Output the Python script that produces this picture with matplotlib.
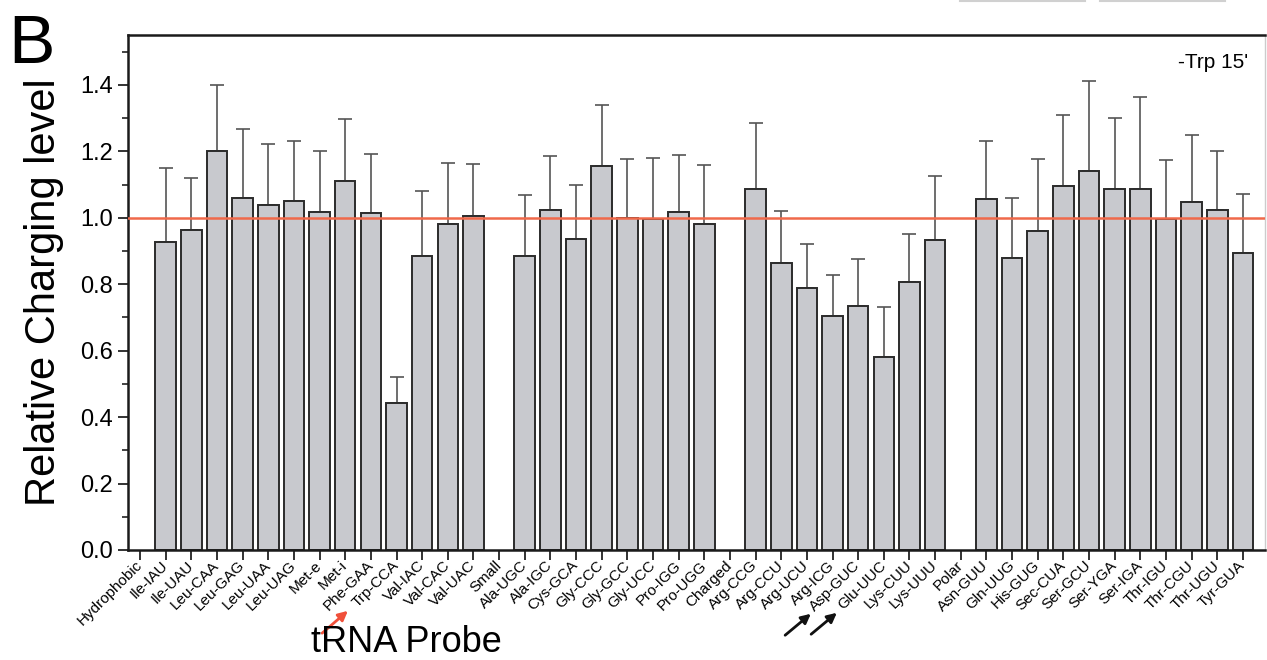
import numpy as np
import matplotlib
matplotlib.use("Agg")
import matplotlib.pyplot as plt
from matplotlib.lines import Line2D
from matplotlib.patches import FancyArrowPatch

plt.rcParams['font.family'] = ['Liberation Sans', 'DejaVu Sans']

# tRNA probes (group headers have no bar)
probes = ['Hydrophobic', 'Ile-IAU', 'Ile-UAU', 'Leu-CAA', 'Leu-GAG', 'Leu-UAA', 'Leu-UAG',
          'Met-e', 'Met-i', 'Phe-GAA', 'Trp-CCA', 'Val-IAC', 'Val-CAC', 'Val-UAC',
          'Small', 'Ala-UGC', 'Ala-IGC', 'Cys-GCA', 'Gly-CCC', 'Gly-GCC', 'Gly-UCC',
          'Pro-IGG', 'Pro-UGG',
          'Charged', 'Arg-CCG', 'Arg-CCU', 'Arg-UCU', 'Arg-ICG', 'Asp-GUC', 'Glu-UUC',
          'Lys-CUU', 'Lys-UUU',
          'Polar', 'Asn-GUU', 'Gln-UUG', 'His-GUG', 'Sec-CUA', 'Ser-GCU', 'Ser-YGA',
          'Ser-IGA', 'Thr-IGU', 'Thr-CGU', 'Thr-UGU', 'Tyr-GUA']

nan = np.nan
level = [nan, 0.928, 0.962, 1.201, 1.060, 1.037, 1.050, 1.016, 1.110, 1.015, 0.442,
         0.884, 0.981, 1.006,
         nan, 0.886, 1.023, 0.937, 1.155, 0.999, 0.996, 1.017, 0.981,
         nan, 1.086, 0.863, 0.788, 0.703, 0.735, 0.581, 0.806, 0.932,
         nan, 1.057, 0.879, 0.959, 1.095, 1.141, 1.088, 1.088, 0.996, 1.048, 1.022, 0.895]

# top of the error bar
err_top = [nan, 1.150, 1.120, 1.400, 1.267, 1.222, 1.231, 1.200, 1.296, 1.193, 0.520,
           1.081, 1.165, 1.162,
           nan, 1.069, 1.186, 1.098, 1.339, 1.178, 1.179, 1.188, 1.158,
           nan, 1.285, 1.021, 0.921, 0.829, 0.877, 0.731, 0.951, 1.126,
           nan, 1.232, 1.058, 1.177, 1.309, 1.412, 1.301, 1.363, 1.173, 1.250, 1.200, 1.071]

level = np.array(level)
err = np.array(err_top) - level

W, H = 1267, 660
fig = plt.figure(figsize=(W / 100, H / 100), dpi=100)
ax = fig.add_axes([127.7 / W, 1 - 550 / H, (1265 - 127.7) / W, (550 - 35) / H])

x = np.arange(len(probes))
ok = ~np.isnan(level)
ax.bar(x[ok], level[ok], width=0.8, color='#c8c9ce', edgecolor='#2b2b2b', linewidth=1.4, zorder=2)
ax.errorbar(x[ok], level[ok], yerr=[np.zeros(ok.sum()), err[ok]], fmt='none',
            ecolor='#555555', elinewidth=1.2, capsize=5, capthick=1.2, zorder=1)

ax.axhline(1.0, color='#f0694a', linewidth=1.8, zorder=3)

ax.set_xlim(-0.48, 43.86)
ax.set_ylim(0, 1.55)
ax.set_yticks(np.arange(0, 1.41, 0.2))
ax.set_yticks(np.arange(0.1, 1.55, 0.1), minor=True)
ax.set_yticklabels([f'{v:.1f}' for v in np.arange(0, 1.41, 0.2)], fontsize=17)
ax.set_xticks(x)
ax.set_xticklabels(probes, rotation=45, ha='right', va='center', rotation_mode='anchor', fontsize=11)

ax.tick_params(axis='both', which='major', direction='out', length=7, width=1.3, color='#222222')
ax.tick_params(axis='y', which='minor', direction='out', length=4.5, width=1.2, color='#222222')
ax.tick_params(axis='x', pad=2.5)
for s in ['left', 'bottom', 'top']:
    ax.spines[s].set_linewidth(1.8)
    ax.spines[s].set_color('#1a1a1a')
ax.spines['right'].set_color('#cccccc')
ax.spines['right'].set_linewidth(1.0)

ax.set_ylabel('Relative Charging level', fontsize=30, labelpad=12)
fig.text(406 / W, 1 - 652 / H, 'tRNA Probe', fontsize=26, ha='center', va='baseline')

ax.text(0.985, 0.965, "-Trp 15'", transform=ax.transAxes, ha='right', va='top', fontsize=15)

fig.text(8 / W, 1 - 63 / H, 'B', fontsize=50, ha='left', va='baseline')

# arrows marking probes
fig.add_artist(FancyArrowPatch((320, H - 635), (350, H - 609), transform=None,
                               arrowstyle='-|>', mutation_scale=14, color='#f0503a', lw=2))
for tail, head in [((783, 637), (813, 612)), ((809, 636), (839, 611))]:
    fig.add_artist(FancyArrowPatch((tail[0], H - tail[1]), (head[0], H - head[1]),
                                   transform=None, arrowstyle='-|>', mutation_scale=14,
                                   color='#111111', lw=2))

# cropped remnants at the top edge
fig.add_artist(Line2D([960 / W, 1085 / W], [0.999, 0.999], transform=fig.transFigure, color='#d0d0d0', lw=1.5))
fig.add_artist(Line2D([1100 / W, 1225 / W], [0.999, 0.999], transform=fig.transFigure, color='#d0d0d0', lw=1.5))

fig.savefig('out.png', dpi=100)
